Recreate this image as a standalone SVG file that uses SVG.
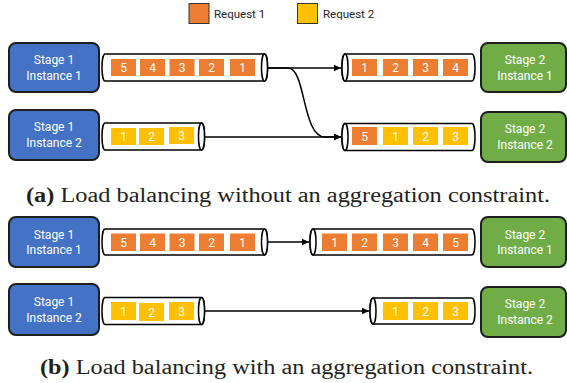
<svg xmlns="http://www.w3.org/2000/svg" width="567" height="383" viewBox="0 0 567 383">
<defs>
<style>
.bg{fill:#ffffff}
.s1{fill:#4472C4;stroke:#1e1e1e;stroke-width:2}
.s2{fill:#70AD47;stroke:#1e1e1e;stroke-width:2}
.nt{font-family:Roboto,"Liberation Sans",sans-serif;font-size:12px;fill:#ffffff;text-anchor:middle}
.q{fill:#ffffff;stroke:#000;stroke-width:1.5}
.o{fill:#ED7D31}
.y{fill:#FFC000}
.num{font-family:Roboto,"Liberation Sans",sans-serif;font-size:12px;fill:#ffffff;text-anchor:middle}
.lg{font-family:Roboto,"Liberation Sans",sans-serif;font-size:11.5px;fill:#222}
.leg{stroke:#333;stroke-width:1}
.cap{font-family:"Liberation Serif","DejaVu Serif",serif;font-size:20px;fill:#231f20}
.c{fill:none;stroke:#000;stroke-width:1.5}
</style>
<marker id="ar" markerWidth="8" markerHeight="8" refX="7" refY="4" orient="auto" markerUnits="userSpaceOnUse">
<path d="M0,0.8 L7,4 L0,7.2 Z" fill="#000"/>
</marker>
</defs>
<rect class="bg" width="567" height="383"/>

<g id="legend">
<rect class="o leg" x="189" y="3.5" width="20" height="20"/>
<text class="lg" x="214" y="18">Request 1</text>
<rect class="y leg" x="297.5" y="3.5" width="20" height="20"/>
<text class="lg" x="323" y="18">Request 2</text>
</g>

<!-- Part (a) -->
<g id="a-s1i1">
<rect class="s1" x="9" y="43" width="90" height="49" rx="7"/>
<text class="nt" x="54" y="64">Stage 1</text>
<text class="nt" x="54" y="80">Instance 1</text>
</g>
<g id="a-s1i2">
<rect class="s1" x="9" y="110" width="90" height="50" rx="7"/>
<text class="nt" x="54" y="131">Stage 1</text>
<text class="nt" x="54" y="147">Instance 2</text>
</g>
<g id="a-s2i1">
<rect class="s2" x="481" y="43" width="85" height="49" rx="7"/>
<text class="nt" x="525" y="64">Stage 2</text>
<text class="nt" x="525" y="80">Instance 1</text>
</g>
<g id="a-s2i2">
<rect class="s2" x="481" y="112" width="85" height="50" rx="7"/>
<text class="nt" x="525" y="133">Stage 2</text>
<text class="nt" x="525" y="149">Instance 2</text>
</g>

<g id="a-q1">
<path class="q" d="M105,54 H264.5 A3,13.5 0 0 1 264.5,81 H105 A3,13.5 0 0 1 105,54 Z"/>
<ellipse class="q" cx="264.5" cy="67.5" rx="3" ry="13.5"/>
<rect class="o" x="111" y="59" width="25" height="17"/><text class="num" x="123.5" y="72">5</text>
<rect class="o" x="140" y="59" width="25" height="17"/><text class="num" x="152.5" y="72">4</text>
<rect class="o" x="169.5" y="59" width="25" height="17"/><text class="num" x="182" y="72">3</text>
<rect class="o" x="199" y="59" width="25" height="17"/><text class="num" x="211.5" y="72">2</text>
<rect class="o" x="230" y="59" width="25" height="17"/><text class="num" x="242.5" y="72">1</text>
</g>
<g id="a-q2">
<path class="q" d="M105,123 H201.5 A3,13.5 0 0 1 201.5,150 H105 A3,13.5 0 0 1 105,123 Z"/>
<ellipse class="q" cx="201.5" cy="136.5" rx="3" ry="13.5"/>
<rect class="y" x="111" y="128" width="25" height="17"/><text class="num" x="123.5" y="141">1</text>
<rect class="y" x="139" y="128" width="25" height="17"/><text class="num" x="151.5" y="141">2</text>
<rect class="y" x="169" y="127" width="25" height="17"/><text class="num" x="181.5" y="140">3</text>
</g>
<g id="a-q3">
<path class="q" d="M345,54 H472 A3,13.5 0 0 1 472,81 H345 A3,13.5 0 0 1 345,54 Z"/>
<ellipse class="q" cx="345" cy="67.5" rx="3" ry="13.5"/>
<rect class="o" x="352" y="59" width="25" height="17"/><text class="num" x="364.5" y="72">1</text>
<rect class="o" x="383" y="59" width="25" height="17"/><text class="num" x="395.5" y="72">2</text>
<rect class="o" x="413" y="59" width="25" height="17"/><text class="num" x="425.5" y="72">3</text>
<rect class="o" x="443" y="59" width="25" height="17"/><text class="num" x="455.5" y="72">4</text>
</g>
<g id="a-q4">
<path class="q" d="M345,123.5 H472 A3,13.5 0 0 1 472,150.5 H345 A3,13.5 0 0 1 345,123.5 Z"/>
<ellipse class="q" cx="345" cy="137" rx="3" ry="13.5"/>
<rect class="o" x="352" y="127" width="25" height="18"/><text class="num" x="364.5" y="140.5">5</text>
<rect class="y" x="383" y="127" width="25" height="18"/><text class="num" x="395.5" y="140.5">1</text>
<rect class="y" x="413" y="127" width="25" height="18"/><text class="num" x="425.5" y="140.5">2</text>
<rect class="y" x="443" y="127" width="25" height="18"/><text class="num" x="455.5" y="140.5">3</text>
</g>

<!-- Part (b) -->
<g id="b-s1i1">
<rect class="s1" x="9" y="217" width="90" height="50" rx="7"/>
<text class="nt" x="54" y="239">Stage 1</text>
<text class="nt" x="54" y="254">Instance 1</text>
</g>
<g id="b-s1i2">
<rect class="s1" x="9" y="284" width="90" height="51" rx="7"/>
<text class="nt" x="54" y="306">Stage 1</text>
<text class="nt" x="54" y="322">Instance 2</text>
</g>
<g id="b-s2i1">
<rect class="s2" x="481" y="217" width="85" height="50" rx="7"/>
<text class="nt" x="525" y="239">Stage 2</text>
<text class="nt" x="525" y="254">Instance 1</text>
</g>
<g id="b-s2i2">
<rect class="s2" x="481" y="287" width="85" height="50" rx="7"/>
<text class="nt" x="525" y="308">Stage 2</text>
<text class="nt" x="525" y="324">Instance 2</text>
</g>

<g id="b-q1">
<path class="q" d="M105,229 H264.5 A3,13 0 0 1 264.5,255 H105 A3,13 0 0 1 105,229 Z"/>
<ellipse class="q" cx="264.5" cy="242" rx="3" ry="13"/>
<rect class="o" x="111" y="233.5" width="25" height="17.5"/><text class="num" x="123.5" y="246.5">5</text>
<rect class="o" x="140" y="233.5" width="25" height="17.5"/><text class="num" x="152.5" y="246.5">4</text>
<rect class="o" x="169.5" y="233.5" width="25" height="17.5"/><text class="num" x="182" y="246.5">3</text>
<rect class="o" x="199" y="233.5" width="25" height="17.5"/><text class="num" x="211.5" y="246.5">2</text>
<rect class="o" x="230" y="233.5" width="25" height="17.5"/><text class="num" x="242.5" y="246.5">1</text>
</g>
<g id="b-q2">
<path class="q" d="M105,297.5 H201.5 A3,13.5 0 0 1 201.5,324.5 H105 A3,13.5 0 0 1 105,297.5 Z"/>
<ellipse class="q" cx="201.5" cy="311" rx="3" ry="13.5"/>
<rect class="y" x="111" y="302" width="25" height="18"/><text class="num" x="123.5" y="315.5">1</text>
<rect class="y" x="139" y="303" width="25" height="18"/><text class="num" x="151.5" y="316.5">2</text>
<rect class="y" x="169" y="302" width="25" height="18"/><text class="num" x="181.5" y="315.5">3</text>
</g>
<g id="b-q3">
<path class="q" d="M313,229 H472 A3,13 0 0 1 472,255 H313 A3,13 0 0 1 313,229 Z"/>
<ellipse class="q" cx="313" cy="242" rx="3" ry="13"/>
<rect class="o" x="322" y="233.5" width="25" height="17.5"/><text class="num" x="334.5" y="246.5">1</text>
<rect class="o" x="352" y="233.5" width="25" height="17.5"/><text class="num" x="364.5" y="246.5">2</text>
<rect class="o" x="383" y="233.5" width="25" height="17.5"/><text class="num" x="395.5" y="246.5">3</text>
<rect class="o" x="413" y="233.5" width="25" height="17.5"/><text class="num" x="425.5" y="246.5">4</text>
<rect class="o" x="443" y="233.5" width="25" height="17.5"/><text class="num" x="455.5" y="246.5">5</text>
</g>
<g id="b-q4">
<path class="q" d="M373,298 H472 A3,13 0 0 1 472,324 H373 A3,13 0 0 1 373,298 Z"/>
<ellipse class="q" cx="373" cy="311" rx="3" ry="13"/>
<rect class="y" x="383" y="302" width="25" height="18"/><text class="num" x="395.5" y="315.5">1</text>
<rect class="y" x="413" y="302" width="25" height="18"/><text class="num" x="425.5" y="315.5">2</text>
<rect class="y" x="443" y="302" width="25" height="18"/><text class="num" x="455.5" y="315.5">3</text>
</g>

<g id="connectors">
<path class="c" d="M267.5,68 H341" marker-end="url(#ar)"/>
<path class="c" d="M267.5,68 H288 C306,68 302,137 325,137 H341" marker-end="url(#ar)"/>
<path class="c" d="M204.5,137 H341" marker-end="url(#ar)"/>
<path class="c" d="M267.5,242 H309" marker-end="url(#ar)"/>
<path class="c" d="M204.5,311 H369" marker-end="url(#ar)"/>
</g>

<g id="captions">
<text class="cap" x="26" y="202" textLength="524" lengthAdjust="spacingAndGlyphs"><tspan font-weight="bold">(a)</tspan> Load balancing without an aggregation constraint.</text>
<text class="cap" x="40" y="374" textLength="493" lengthAdjust="spacingAndGlyphs"><tspan font-weight="bold">(b)</tspan> Load balancing with an aggregation constraint.</text>
</g>
</svg>
